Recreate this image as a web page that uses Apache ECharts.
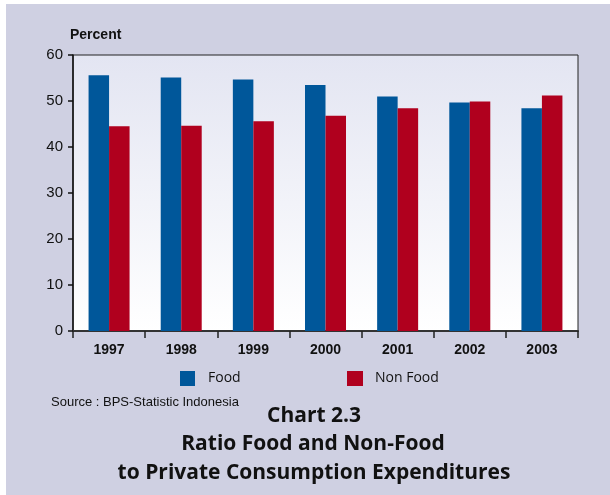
<!DOCTYPE html>
<html>
<head>
<meta charset="utf-8">
<script src="https://cdn.jsdelivr.net/npm/echarts@6/dist/echarts.min.js"></script>
<style>
  html, body { margin: 0; padding: 0; background: #ffffff; }
  #chart { width: 610px; height: 495px; }
</style>
</head>
<body>
<div id="chart"></div>
<script>
// Share of food vs non-food in private consumption expenditures (percent)
const years = ['1997', '1998', '1999', '2000', '2001', '2002', '2003'];
const food = [55.6, 55.1, 54.7, 53.5, 51.0, 49.7, 48.4];
const nonFood = [44.5, 44.6, 45.6, 46.8, 48.4, 49.9, 51.2];
const yTicks = [0, 10, 20, 30, 40, 50, 60];

const sans = '"Liberation Sans", Arial, sans-serif';
const body = '"Open Sans", "Noto Sans", sans-serif';

const chart = echarts.init(document.getElementById('chart'), null, { renderer: 'canvas' });

chart.setOption({
  backgroundColor: '#ffffff',
  animation: false,
  graphic: [
    { type: 'rect', z: -10, shape: { x: 6, y: 4, width: 604, height: 491 }, style: { fill: '#cfd0e2' } },
    { type: 'text', left: 70, top: 28, style: { text: 'Percent', font: 'bold 14px ' + sans, fill: '#111' } },
    { type: 'text', left: 51, top: 396, style: { text: 'Source : BPS-Statistic Indonesia', font: '13px ' + sans, fill: '#111' } },
    { type: 'text', x: 314, y: 406, style: { text: 'Chart 2.3', font: 'bold 21px ' + body, fill: '#111', textAlign: 'center' } },
    { type: 'text', x: 313, y: 434, style: { text: 'Ratio Food and Non-Food', font: 'bold 21px ' + body, fill: '#111', textAlign: 'center' } },
    { type: 'text', x: 314, y: 463, style: { text: 'to Private Consumption Expenditures', font: 'bold 21px ' + body, fill: '#111', textAlign: 'center' } }
  ],
  legend: [
    {
      data: ['Food'], left: 180, top: 371, padding: 0, itemWidth: 15, itemHeight: 15, itemGap: 0,
      icon: 'rect', textStyle: { fontFamily: body, fontSize: 14, color: '#111', padding: [0, 0, 0, 8] }
    },
    {
      data: ['Non Food'], left: 347, top: 371, padding: 0, itemWidth: 16, itemHeight: 15, itemGap: 0,
      icon: 'rect', textStyle: { fontFamily: body, fontSize: 14, color: '#111', padding: [0, 0, 0, 7] }
    }
  ],
  grid: {
    left: 73, right: 32, top: 55, bottom: 164,
    show: true,
    borderColor: '#222', borderWidth: 1,
    backgroundColor: new echarts.graphic.LinearGradient(0, 0, 0, 1, [
      { offset: 0, color: '#e3e5f2' },
      { offset: 1, color: '#ffffff' }
    ])
  },
  xAxis: {
    type: 'category',
    data: years,
    axisLine: { lineStyle: { color: '#333', width: 2 } },
    axisTick: { show: true, length: 7, lineStyle: { color: '#222', width: 1.5 } },
    axisLabel: { fontFamily: sans, fontWeight: 'bold', fontSize: 14, color: '#111', margin: 12 }
  },
  yAxis: {
    type: 'value',
    min: yTicks[0], max: yTicks[yTicks.length - 1], interval: 10,
    splitLine: { show: false },
    axisLine: { show: true, lineStyle: { color: '#111', width: 1.5 } },
    axisTick: { show: true, length: 5, lineStyle: { color: '#111', width: 1.5 } },
    axisLabel: { fontFamily: sans, fontSize: 15, color: '#111', margin: 10 }
  },
  series: [
    {
      name: 'Food', type: 'bar', data: food,
      barWidth: 20.5, barGap: '0%',
      itemStyle: { color: '#00579a' }
    },
    {
      name: 'Non Food', type: 'bar', data: nonFood,
      barWidth: 20.5, barGap: '0%',
      itemStyle: { color: '#b0001e' }
    }
  ]
});
</script>
</body>
</html>
